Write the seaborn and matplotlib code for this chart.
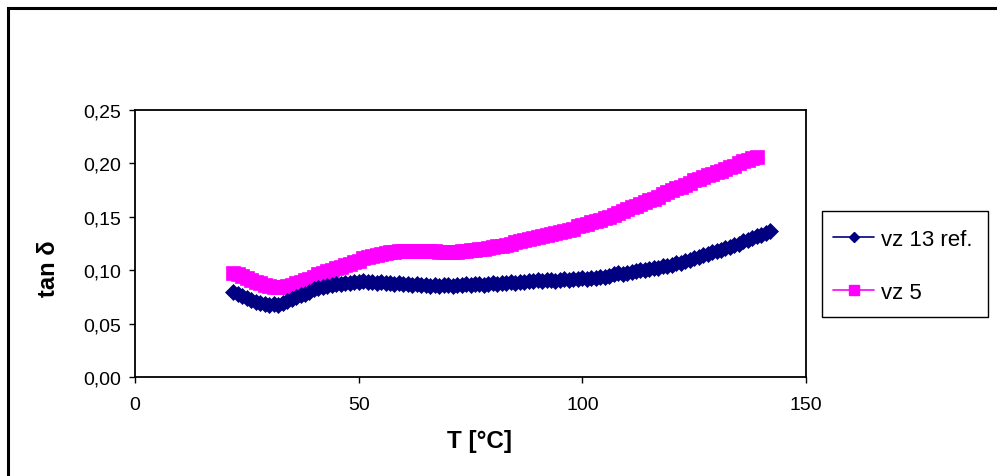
import matplotlib
matplotlib.use("Agg")
import matplotlib.pyplot as plt
from matplotlib.lines import Line2D
from matplotlib.patches import Rectangle
import pandas as pd
import seaborn as sns

# Loss factor tan δ versus temperature for two samples
temp_ref = list(range(22, 143))
tan_ref = [
    0.080, 0.078, 0.076, 0.074, 0.072, 0.070, 0.069, 0.068, 0.067, 0.068,
    0.067, 0.069, 0.071, 0.073, 0.075, 0.077, 0.078, 0.080, 0.082, 0.083,
    0.084, 0.085, 0.086, 0.087, 0.087, 0.088, 0.088, 0.089, 0.089, 0.090,
    0.089, 0.089, 0.088, 0.089, 0.088, 0.088, 0.087, 0.088, 0.087, 0.087,
    0.086, 0.087, 0.086, 0.086, 0.085, 0.086, 0.085, 0.086, 0.086, 0.085,
    0.086, 0.086, 0.087, 0.086, 0.087, 0.087, 0.086, 0.087, 0.088, 0.087,
    0.088, 0.088, 0.089, 0.088, 0.089, 0.089, 0.090, 0.090, 0.091, 0.090,
    0.091, 0.091, 0.090, 0.091, 0.092, 0.091, 0.092, 0.092, 0.093, 0.092,
    0.093, 0.093, 0.094, 0.094, 0.095, 0.096, 0.097, 0.096, 0.097, 0.098,
    0.099, 0.100, 0.100, 0.101, 0.102, 0.102, 0.104, 0.104, 0.105, 0.107,
    0.107, 0.109, 0.110, 0.111, 0.112, 0.114, 0.115, 0.117, 0.118, 0.119,
    0.121, 0.122, 0.124, 0.125, 0.127, 0.128, 0.130, 0.132, 0.133, 0.135,
    0.137,
]

temp_vz5 = list(range(22, 140))
tan_vz5 = [
    0.097, 0.096, 0.095, 0.093, 0.091, 0.089, 0.088, 0.086, 0.085, 0.084,
    0.084, 0.084, 0.085, 0.086, 0.088, 0.089, 0.091, 0.092, 0.094, 0.096,
    0.097, 0.099, 0.100, 0.102, 0.103, 0.105, 0.106, 0.108, 0.109, 0.111,
    0.112, 0.113, 0.114, 0.115, 0.116, 0.117, 0.117, 0.118, 0.118, 0.118,
    0.118, 0.118, 0.118, 0.118, 0.118, 0.118, 0.117, 0.117, 0.117, 0.117,
    0.117, 0.118, 0.118, 0.119, 0.119, 0.120, 0.120, 0.121, 0.122, 0.123,
    0.123, 0.124, 0.125, 0.126, 0.127, 0.128, 0.129, 0.130, 0.131, 0.132,
    0.133, 0.134, 0.135, 0.136, 0.137, 0.138, 0.139, 0.141, 0.142, 0.143,
    0.145, 0.146, 0.147, 0.149, 0.150, 0.152, 0.154, 0.155, 0.157, 0.159,
    0.160, 0.162, 0.164, 0.166, 0.167, 0.169, 0.171, 0.173, 0.175, 0.177,
    0.178, 0.180, 0.182, 0.184, 0.185, 0.187, 0.189, 0.190, 0.192, 0.193,
    0.195, 0.197, 0.198, 0.200, 0.202, 0.203, 0.205, 0.206,
]

series_names = ["vz 13 ref.", "vz 5"]
series_colors = ["#000080", "#FF00FF"]
series_markers = ["D", "s"]

x_ticks = [0, 50, 100, 150]
y_ticks = [0.00, 0.05, 0.10, 0.15, 0.20, 0.25]

df = pd.concat([
    pd.DataFrame({"T": temp_ref, "tan": tan_ref, "series": series_names[0]}),
    pd.DataFrame({"T": temp_vz5, "tan": tan_vz5, "series": series_names[1]}),
], ignore_index=True)

sns.set_theme(style="white")
plt.rcParams["font.family"] = ["Liberation Sans", "DejaVu Sans"]
plt.rcParams["text.color"] = "black"
plt.rcParams["axes.labelcolor"] = "black"

fig = plt.figure(figsize=(9.97, 4.77), dpi=100)
W, H = 997, 477
ax = fig.add_axes([135 / W, 99 / H, 671 / W, 267 / H])

sizes = {series_names[0]: 8.5, series_names[1]: 9.5}
for name, color, marker in zip(series_names, series_colors, series_markers):
    sns.lineplot(
        data=df[df["series"] == name], x="T", y="tan", ax=ax,
        color=color, marker=marker, markersize=sizes[name],
        markeredgecolor=color, markeredgewidth=0.5, linewidth=1.5,
        legend=False, zorder=3 if name == series_names[0] else 2,
    )

ax.set_xlim(0, 150)
ax.set_ylim(0, 0.25)
ax.set_xticks(x_ticks)
ax.set_yticks(y_ticks)
ax.set_xticklabels([str(v) for v in x_ticks])
ax.set_yticklabels([f"{v:.2f}".replace(".", ",") for v in y_ticks])
ax.tick_params(axis="both", direction="out", length=4, width=1, color="black",
               labelsize=14, labelcolor="black")
ax.tick_params(axis="x", pad=10)
ax.tick_params(axis="y", pad=6)
ax.xaxis.set_ticks_position("bottom")
ax.yaxis.set_ticks_position("left")
for sp in ax.spines.values():
    sp.set_color("black")
    sp.set_linewidth(1.3)
    sp.set_visible(True)
ax.grid(False)
ax.set_facecolor("white")

ax.set_xlabel("T [°C]", fontsize=17.5, fontweight="bold", color="black")
ax.set_ylabel("tan δ", fontsize=17, fontweight="bold", color="black")
ax.xaxis.set_label_coords(0.513, -0.195)
ax.yaxis.set_label_coords(-0.112, 0.41)

# legend frame drawn separately, entries placed inside it
fig.patches.append(Rectangle(
    (822 / W, 1 - 318 / H), 166 / W, 106 / H,
    transform=fig.transFigure, fill=False, edgecolor="black", linewidth=1.0,
))
handles = [
    Line2D([], [], color=c, marker=m, markersize=s, markeredgecolor=c, linewidth=1.2)
    for c, m, s in zip(series_colors, series_markers, [5, 7])
]
leg = fig.legend(
    handles, series_names, loc="center left",
    bbox_to_anchor=(833 / W, 1 - 267 / H),
    frameon=False, fontsize=16,
    handlelength=1.85, handletextpad=0.3, labelspacing=1.45,
    borderpad=0, borderaxespad=0,
)
for t in leg.get_texts():
    t.set_color("black")

# chart area border (top and left edges visible)
fig.patches.append(Rectangle(
    (8 / W, -0.5), 2.0, 0.5 + 1 - 9 / H,
    transform=fig.transFigure, fill=False, edgecolor="black", linewidth=2.2,
))

fig.savefig("out.png", dpi=100, facecolor="white")
